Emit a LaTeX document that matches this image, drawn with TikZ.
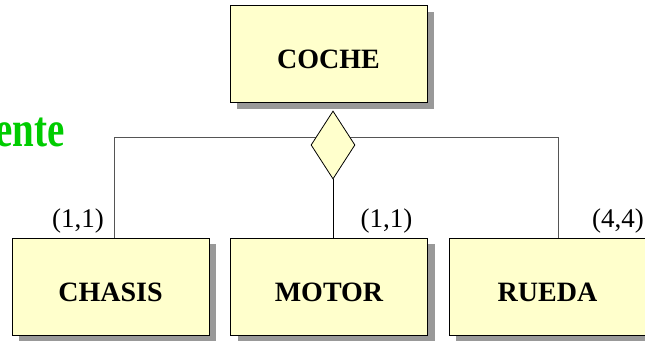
\documentclass[tikz,border=0pt]{standalone}
\usepackage{fontspec}
\setmainfont{Liberation Serif}
\usetikzlibrary{shapes.geometric,shadows}
\definecolor{boxfill}{HTML}{FFFFCC}
\definecolor{shadowgray}{HTML}{999999}
\definecolor{linegray}{HTML}{555555}
\definecolor{titlegreen}{HTML}{00CC00}
\begin{document}
\begin{tikzpicture}[x=1pt,y=-1pt,
  entity/.style={draw=black, line width=1pt, fill=boxfill,
    minimum width=197pt, minimum height=97pt, inner sep=0pt,
    text height=28.5pt, text depth=0pt,
    font=\fontsize{28}{30}\selectfont\bfseries,
    drop shadow={shadow xshift=7pt, shadow yshift=-6pt, fill=shadowgray, opacity=1}},
  relation/.style={diamond, draw=black, line width=0.8pt, fill=boxfill,
    minimum width=44pt, minimum height=68pt, inner sep=0pt},
  conn/.style={draw=linegray, line width=1pt},
  card/.style={inner sep=0pt, anchor=base east, font=\fontsize{27}{29}\selectfont},
  title/.style={inner sep=0pt, anchor=base east, text=titlegreen,
    font=\fontsize{39}{40}\selectfont\bfseries}]
\useasboundingbox (0,0) rectangle (645,344);
\node[entity] (coche) at (328.5,54.5) {COCHE};
\node[entity] (chasis) at (110.5,287) {CHASIS};
\node[entity] (motor) at (329,287) {MOTOR};
\node[entity] (rueda) at (547.5,287) {RUEDA};
\draw[conn] ([xshift=3.5pt]chasis.north) -- ++(0,-100.3) -| ([xshift=10.5pt]rueda.north);
\node[relation] (rel) at (333,145) {};
\draw[conn, draw=black] (rel.south) -- (rel.south |- motor.north);
\node[card] (c1) at (104,227.5) {(1,1)};
\node[card] (c2) at (412.5,227.5) {(1,1)};
\node[card] (c3) at (644,227.5) {(4,4)};
\begin{scope}[shift={(65,147)}, yscale=1.3]
\node[title, transform shape] (tit) at (0,0) {ente};
\end{scope}
\end{tikzpicture}
\end{document}
